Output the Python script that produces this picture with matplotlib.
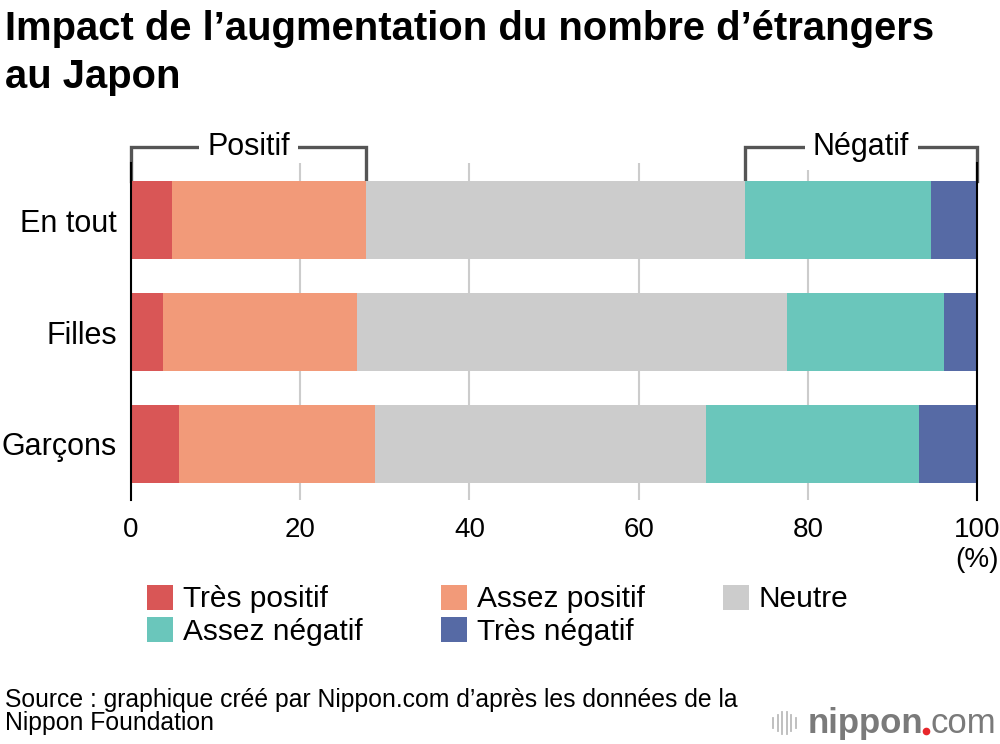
import matplotlib
matplotlib.use("Agg")
import numpy as np
from matplotlib import pyplot as plt
from matplotlib.patches import Patch
from matplotlib.transforms import blended_transform_factory

plt.rcParams['font.family'] = ['Liberation Sans', 'DejaVu Sans']

groups = ["En tout", "Filles", "Garçons"]
series = ["Très positif", "Assez positif", "Neutre", "Assez négatif", "Très négatif"]
tres_positif = [4.8, 3.8, 5.7]
assez_positif = [23.0, 22.9, 23.1]
neutre = [44.8, 50.8, 39.2]
assez_negatif = [22.0, 18.6, 25.1]
tres_negatif = [5.4, 3.9, 6.9]
xticks = [0, 20, 40, 60, 80, 100]

colors = ['#d95656', '#f29a79', '#cccccc', '#6ac6bb', '#566aa5']
values = [tres_positif, assez_positif, neutre, assez_negatif, tres_negatif]

fig = plt.figure(figsize=(10, 7.44), dpi=100)
ax = fig.add_axes([0.131, 0.328, 0.846, 0.453])

y = np.arange(len(groups))
left = np.zeros(len(groups))
for vals, col, name in zip(values, colors, series):
    ax.barh(y, vals, left=left, height=0.7, color=col, label=name, zorder=2)
    left += np.array(vals)

ax.set_xlim(0, 100)
ax.set_ylim(2.5, -0.51)
ax.set_xticks(xticks)
ax.set_xticklabels([str(t) for t in xticks], fontsize=20)
ax.set_yticks(y)
ax.set_yticklabels(groups, fontsize=22)
ax.tick_params(axis='x', length=0, pad=12)
ax.tick_params(axis='y', length=0, pad=10)
ax.grid(axis='x', color='#cccccc', linewidth=1.5, zorder=0)
for s in ['top', 'bottom']:
    ax.spines[s].set_visible(False)
for s in ['left', 'right']:
    ax.spines[s].set_color('black')
    ax.spines[s].set_linewidth(1.5)
    ax.spines[s].set_zorder(3)
ax.text(100, -0.14, "(%)", transform=blended_transform_factory(ax.transData, ax.transAxes),
        ha='center', va='top', fontsize=20)

# brackets over the first bar
tr = blended_transform_factory(ax.transData, ax.transAxes)
pos_end = tres_positif[0] + assez_positif[0]
neg_start = 100 - assez_negatif[0] - tres_negatif[0]
for x0, x1, label in [(0, pos_end, "Positif"), (neg_start, 100, "Négatif")]:
    ax.plot([x0, x0, x1, x1], [0.947, 1.047, 1.047, 0.947], transform=tr, color='#555555',
            linewidth=2.4, clip_on=False, zorder=1, solid_joinstyle='miter')
    ax.text((x0 + x1) / 2, 1.047, label, transform=tr, ha='center', va='center', fontsize=22,
            bbox=dict(facecolor='white', edgecolor='none', pad=6), zorder=4)

handles = [Patch(facecolor=c, edgecolor='none') for c in colors]
order = [0, 3, 1, 4, 2]
fig.legend([handles[i] for i in order], [series[i] for i in order], ncol=3,
           loc='upper left', bbox_to_anchor=(0.147, 0.214), frameon=False, fontsize=21.5,
           handlelength=0.87, handleheight=0.9, handletextpad=0.33, columnspacing=2.62,
           labelspacing=0.13, borderaxespad=0, borderpad=0)

fig.text(0.005, 0.987, "Impact de l\u2019augmentation du nombre d\u2019étrangers\nau Japon",
         ha='left', va='top', fontsize=28.8, fontweight='bold', linespacing=1.33)
fig.text(0.005, 1 - 730 / 744, "Source : graphique créé par Nippon.com d\u2019après les données de la\nNippon Foundation",
         ha='left', va='baseline', fontsize=17.8, linespacing=0.93)

# logo
base = 1 - 733 / 744
fig.text(0.808, base, "nippon", ha='left', va='baseline', fontsize=25, fontweight='bold', color='#7a7a7a')
fig.text(0.931, base, "com", ha='left', va='baseline', fontsize=25, color='#7a7a7a')
fig.add_artist(plt.Line2D([0.9255], [1 - 730.5 / 744], marker='o', markersize=5.5, color='#e8262b',
                          markeredgewidth=0, transform=fig.transFigure))
for i, h in enumerate([10, 16, 22, 22, 16, 10]):
    xx = 0.773 + i * 0.0046
    fig.add_artist(plt.Line2D([xx, xx], [(744 - 723 - h / 2) / 744, (744 - 723 + h / 2) / 744],
                              color='#bbbbbb', linewidth=1.3, transform=fig.transFigure))

fig.savefig("out.png", dpi=100)
